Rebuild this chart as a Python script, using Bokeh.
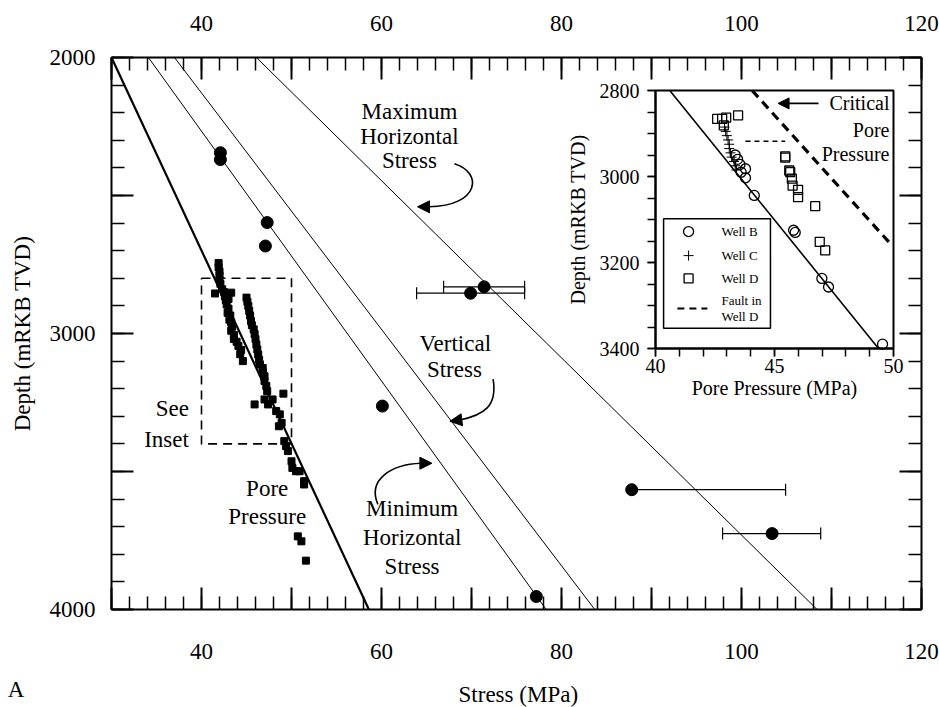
import numpy as np
from bokeh.plotting import figure
from bokeh.models import Range1d, LinearAxis, FixedTicker, Label, Arrow, NormalHead
from bokeh.embed import file_html
from bokeh.resources import INLINE

FONT = "Liberation Serif"

# ---------------- main chart data ----------------
line_depths = [2000, 4000]
pore_line = [30.0, 58.6]          # pore pressure gradient (MPa at 2000 m, 4000 m)
shmin_line = [34.1, 78.3]         # minimum horizontal stress
sv_line = [37.0, 83.7]            # vertical stress
shmax_line = [46.1, 108.4]        # maximum horizontal stress

meas_stress = [42.1, 42.1, 47.3, 47.1, 69.9, 71.4, 60.1, 87.8, 103.4, 77.2]
meas_depth = [2345, 2370, 2598, 2683, 2854, 2831, 3263, 3566, 3725, 3953]

err_depth = [2854, 2831, 3566, 3725]
err_low = [63.9, 66.9, 87.8, 97.9]
err_high = [75.9, 75.9, 104.9, 108.8]
cap_stress = [63.9, 75.9, 66.9, 75.9, 104.9, 97.9, 108.8]
cap_depth = [2854, 2854, 2831, 2831, 3566, 3725, 3725]

pp_stress = [41.9, 41.9, 42.0, 42.0, 42.0, 42.1, 41.5, 42.3, 42.5, 43.3, 42.6, 42.7, 43.0, 42.8,
             43.0, 42.9, 43.2, 43.1, 43.3, 43.4, 43.3, 43.6, 43.6, 43.9, 44.1, 44.4, 44.3, 44.6,
             45.0, 45.1, 45.2, 45.3, 45.4, 45.5, 45.6, 45.8, 45.9, 46.0, 46.1, 46.2, 46.3, 46.4,
             46.5, 46.8, 46.8, 47.0, 47.0, 47.2, 47.3,
             45.9, 47.0, 47.4, 47.9, 49.1, 48.3, 48.7, 48.9, 48.6, 49.2, 49.4, 49.6, 50.0, 50.1,
             50.5, 50.9, 51.4, 51.4, 50.7, 51.1, 51.6]
pp_depth = [2745, 2760, 2775, 2790, 2805, 2820, 2855, 2840, 2850, 2852, 2865, 2880, 2875, 2895,
            2910, 2925, 2935, 2950, 2960, 2975, 2990, 3005, 3020, 3030, 3045, 3060, 3075, 3100,
            2870, 2885, 2900, 2918, 2935, 2955, 2970, 2985, 3002, 3020, 3040, 3058, 3076, 3095,
            3112, 3125, 3140, 3155, 3172, 3190, 3209,
            3257, 3239, 3257, 3239, 3218, 3281, 3293, 3324, 3336, 3390, 3408, 3426, 3463, 3487,
            3499, 3499, 3535, 3547, 3735, 3753, 3823]

x_ticks = [30, 40, 50, 60, 70, 80, 90, 100, 110, 120]
x_tick_labels = ["", "40", "", "60", "", "80", "", "100", "", "120"]
y_ticks = [2000, 2500, 3000, 3500, 4000]
y_tick_labels = ["2000", "", "3000", "", "4000"]

# ---------------- inset data ----------------
inset_line_p = [40.6, 49.37]
inset_line_d = [2800, 3400]
critical_p = [44.06, 49.93]
critical_d = [2800, 3160]
fault_p = [43.78, 45.45]
fault_d = [2918, 2918]

wellB_p = [43.78, 43.78, 44.15, 45.80, 45.87, 46.99, 47.27, 49.54, 43.45, 43.55, 43.6, 43.35]
wellB_d = [2982, 3003, 3044, 3125, 3130, 3237, 3257, 3390, 2960, 2972, 2990, 2950]
wellC_p = [42.9, 42.95, 43.0, 43.05, 43.1, 43.1, 43.15, 43.2, 43.3, 43.35, 43.4]
wellC_d = [2885, 2895, 2905, 2915, 2925, 2935, 2945, 2955, 2965, 2975, 2985]
wellD_p = [42.59, 42.80, 42.97, 43.47, 42.87, 45.45, 45.45, 45.62, 45.66, 45.73, 45.76, 45.99,
           45.99, 46.71, 46.90, 47.13]
wellD_d = [2866, 2866, 2863, 2858, 2881, 2953, 2956, 2986, 2990, 3005, 3021, 3031, 3048, 3069,
           3152, 3172]

ix_ticks = [40, 45, 50]
ix_minor = list(range(40, 51))
iy_ticks = [2800, 3000, 3200, 3400]
iy_minor = list(range(2800, 3401, 50))

# ---------------- geometry (pixels) ----------------
W, H = 939, 707
FL, FR, FT, FB = 111, 921, 57, 609        # main plot box
IL, IR, IT, IB = 655, 893, 90, 348        # inset box
X0, X1 = 30.0, 120.0
D0, D1 = 2000.0, 4000.0
P0, P1 = 40.0, 50.0
E0, E1 = 2800.0, 3400.0


def span(a0, a1, s0, s1, total):
    k = (a1 - a0) / (s1 - s0)
    return a0 - s0 * k, a1 + (total - s1) * k


xr = span(X0, X1, FL, FR, W)
yr = span(D0, D1, FT, FB, H)
ixr = span(P0, P1, IL, IR, W)
iyr = span(E0, E1, IT, IB, H)

p = figure(width=W, height=H, output_backend="svg", toolbar_location=None,
           x_range=Range1d(*xr), y_range=Range1d(yr[1], yr[0]),
           x_axis_location=None, y_axis_location=None,
           min_border=0, min_border_left=0, min_border_right=0,
           min_border_top=0, min_border_bottom=0)
p.extra_x_ranges = {"ix": Range1d(*ixr)}
p.extra_y_ranges = {"iy": Range1d(iyr[1], iyr[0])}
p.xgrid.visible = False
p.ygrid.visible = False
p.outline_line_color = None
p.background_fill_color = "white"
p.border_fill_color = "white"
R = dict(x_range_name="ix", y_range_name="iy")


def style_axis(ax, big=22, small=13, size="23px"):
    ax.axis_line_width = 2
    ax.axis_line_color = "black"
    ax.major_tick_line_width = 2
    ax.minor_tick_line_width = 1.5
    ax.major_tick_line_color = "black"
    ax.minor_tick_line_color = "black"
    ax.major_tick_in = big
    ax.major_tick_out = 0
    ax.minor_tick_in = small
    ax.minor_tick_out = 0
    ax.major_label_text_font = FONT
    ax.major_label_text_font_size = size
    ax.major_label_text_color = "black"


xt = FixedTicker(ticks=x_ticks, minor_ticks=list(range(30, 121, 2)))
yt = FixedTicker(ticks=y_ticks, minor_ticks=list(range(2000, 4001, 100)))
xo = {t: l for t, l in zip(x_ticks, x_tick_labels)}
yo = {t: l for t, l in zip(y_ticks, y_tick_labels)}

ax_b = LinearAxis(ticker=xt, major_label_overrides=xo, fixed_location=D1, bounds=(X0, X1))
style_axis(ax_b)
ax_b.major_label_standoff = 34
p.add_layout(ax_b, "below")

ax_t = LinearAxis(ticker=xt, major_label_overrides=xo, fixed_location=D0, bounds=(X0, X1))
style_axis(ax_t)
ax_t.major_label_standoff = 27
p.add_layout(ax_t, "above")

ax_l = LinearAxis(ticker=yt, major_label_overrides=yo, fixed_location=X0, bounds=(D0, D1))
style_axis(ax_l)
ax_l.major_label_standoff = 16
p.add_layout(ax_l, "left")

ax_r = LinearAxis(ticker=yt, major_label_overrides={t: "" for t in y_ticks},
                  fixed_location=X1, bounds=(D0, D1))
style_axis(ax_r)
ax_r.major_label_standoff = 0
p.add_layout(ax_r, "right")

# lines
p.line(pore_line, line_depths, line_color="black", line_width=2.2)
p.line(shmin_line, line_depths, line_color="black", line_width=1)
p.line(sv_line, line_depths, line_color="black", line_width=1)
p.line(shmax_line, line_depths, line_color="black", line_width=1)

# "See Inset" box on the main scales
p.line([P0, P1, P1, P0, P0], [E0, E0, E1, E1, E0], line_color="black",
       line_width=1.6, line_dash="9 6")

# pore pressure squares
p.scatter(pp_stress, pp_depth, marker="square", size=7, color="black")

# error bars and stress measurements
p.segment(x0=err_low, y0=err_depth, x1=err_high, y1=err_depth, line_color="black", line_width=1.2)
p.scatter(cap_stress, cap_depth, marker="dash", angle=np.pi / 2, size=12, line_color="black",
          line_width=1.2)
p.scatter(meas_stress, meas_depth, marker="circle", size=12, color="black")


def txt(x, y, s, size="23px", align="center", angle=0.0, rng=None):
    kw = rng or {}
    p.add_layout(Label(x=x, y=y, text=s, text_font=FONT, text_font_size=size, text_align=align,
                       text_baseline="middle", angle=angle, text_color="black", **kw))


txt(63.1, 2196, "Maximum")
txt(63.1, 2287, "Horizontal")
txt(63.1, 2374, "Stress")
txt(68.2, 3038, "Vertical")
txt(68.1, 3132, "Stress")
txt(63.4, 3633, "Minimum")
txt(63.4, 3739, "Horizontal")
txt(63.4, 3844, "Stress")
txt(47.3, 3561, "Pore")
txt(47.3, 3662, "Pressure")
txt(38.6, 3270, "See", align="right")
txt(38.6, 3383, "Inset", align="right")
txt(75.2, 4308, "Stress (MPa)")
txt(19.4, 4290, "A")
txt(20.1, 3000, "Depth (mRKB TVD)", angle=np.pi / 2)


def carrow(x0, y0, cx0, cy0, cx1, cy1, x1, y1, hx, hy):
    p.bezier(x0=[x0], y0=[y0], x1=[x1], y1=[y1], cx0=[cx0], cy0=[cy0], cx1=[cx1], cy1=[cy1],
             line_color="black", line_width=1.6)
    p.add_layout(Arrow(end=NormalHead(size=12, fill_color="black", line_color="black"),
                       x_start=x1, y_start=y1, x_end=hx, y_end=hy, line_width=1.6,
                       line_color="black"))


carrow(68.1, 2385, 71.3, 2417, 70.9, 2537, 65.3, 2541, 64.0, 2541)
carrow(72.4, 3165, 72.9, 3263, 71.4, 3296, 68.6, 3314, 67.6, 3318)
carrow(59.6, 3619, 58.4, 3528, 61.1, 3474, 64.4, 3470, 65.6, 3470)

# ---------------- inset ----------------
p.quad(left=[P0], right=[P1], top=[E0], bottom=[E1], fill_color="white",
       line_color="black", line_width=2, **R)
p.line(inset_line_p, inset_line_d, line_color="black", line_width=1.6, **R)
p.line(critical_p, critical_d, line_color="black", line_width=3.2, line_dash="9 6", **R)
p.line(fault_p, fault_d, line_color="black", line_width=1.3, line_dash="5 4", **R)
p.scatter(wellD_p, wellD_d, marker="square", size=9, fill_color=None, line_color="black",
          line_width=1.3, **R)
p.scatter(wellC_p, wellC_d, marker="cross", size=10, line_color="black", line_width=1, **R)
p.scatter(wellB_p, wellB_d, marker="circle", size=10, fill_color=None, line_color="black",
          line_width=1.3, **R)


def style_inset_axis(ax):
    ax.axis_line_width = 2
    ax.major_tick_line_width = 1.5
    ax.minor_tick_line_width = 1.5
    ax.major_tick_in = 0
    ax.major_tick_out = 8
    ax.minor_tick_in = 0
    ax.minor_tick_out = 8
    ax.major_label_text_font = FONT
    ax.major_label_text_font_size = "20px"
    ax.major_label_text_color = "black"


ax_ib = LinearAxis(x_range_name="ix", y_range_name="iy", fixed_location=E1, bounds=(P0, P1),
                   ticker=FixedTicker(ticks=ix_ticks, minor_ticks=ix_minor))
style_inset_axis(ax_ib)
ax_ib.major_label_standoff = 2
p.add_layout(ax_ib, "below")

ax_il = LinearAxis(x_range_name="ix", y_range_name="iy", fixed_location=P0, bounds=(E0, E1),
                   ticker=FixedTicker(ticks=iy_ticks, minor_ticks=iy_minor))
style_inset_axis(ax_il)
ax_il.major_label_standoff = 8
p.add_layout(ax_il, "left")

txt(45.0, 3491, "Pore Pressure (MPa)", size="20px", rng=R)
txt(36.76, 3100, "Depth (mRKB TVD)", size="20px", angle=np.pi / 2, rng=R)
txt(49.83, 2830, "Critical", size="20px", align="right", rng=R)
txt(49.83, 2891, "Pore", size="20px", align="right", rng=R)
txt(49.83, 2947, "Pressure", size="20px", align="right", rng=R)
p.add_layout(Arrow(end=NormalHead(size=11, fill_color="black", line_color="black"),
                   x_start=46.85, y_start=2830, x_end=45.15, y_end=2830, line_width=1.6, **R))

# inset legend
p.quad(left=[40.34], right=[44.83], top=[3098], bottom=[3353], fill_color="white",
       line_color="black", line_width=1.5, **R)
p.scatter([41.39], [3128], marker="circle", size=10, fill_color=None, line_color="black",
          line_width=1.3, **R)
p.scatter([41.39], [3184], marker="cross", size=10, line_color="black", line_width=1, **R)
p.scatter([41.39], [3237], marker="square", size=9, fill_color=None, line_color="black",
          line_width=1.3, **R)
p.line([40.92, 42.18], [3307, 3307], line_color="black", line_width=2.2, line_dash="7 5", **R)
txt(42.77, 3128, "Well B", size="13px", align="left", rng=R)
txt(42.77, 3184, "Well C", size="13px", align="left", rng=R)
txt(42.77, 3237, "Well D", size="13px", align="left", rng=R)
txt(42.77, 3288, "Fault in", size="13px", align="left", rng=R)
txt(42.77, 3326, "Well D", size="13px", align="left", rng=R)

open("out.html", "w").write(file_html(p, INLINE))
